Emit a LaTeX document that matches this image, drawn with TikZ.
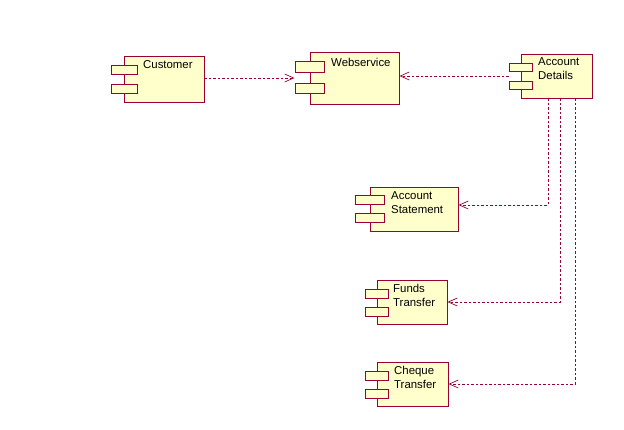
\documentclass[tikz,border=0pt]{standalone}
\usepackage{fontspec}
\setmainfont{Liberation Sans}
\usetikzlibrary{arrows.meta}
\definecolor{umlborder}{RGB}{153,0,51}
\definecolor{umlfill}{RGB}{255,255,204}
\begin{document}
\begin{tikzpicture}[x=1pt,y=-1pt,
 comp/.style={draw=umlborder, fill=umlfill, line width=0.9pt, inner sep=0pt},
 comptab/.style={draw=umlborder, fill=umlfill, line width=0.9pt, inner sep=0pt, minimum width=25pt, minimum height=9pt},
 lbl/.style={anchor=north west, inner sep=0pt, font=\fontsize{11.4}{13.8}\selectfont, align=left},
 dep/.style={draw=umlborder, line width=0.7pt, dash pattern=on 2.5pt off 2pt, -{Straight Barb[length=9pt,width=8pt]}}]
\useasboundingbox (0,0) rectangle (624,429);
\fill[white] (0,0) rectangle (624,429);

% Customer
\node[comp, minimum width=80pt, minimum height=46pt] (cust) at (164,79) {};
\node[comptab, minimum width=26pt] (custt1) at (124,69.5) {};
\node[comptab, minimum width=26pt] (custt2) at (124,88.5) {};
\node[lbl] (custl) at (143,60.5) {Customer};

% Webservice
\node[comp, minimum width=89pt, minimum height=52pt] (web) at (354.5,78) {};
\node[comptab, minimum width=29pt, minimum height=10.5pt] (webt1) at (309.5,67) {};
\node[comptab, minimum width=29pt, minimum height=10.5pt] (webt2) at (309.5,88.5) {};
\node[lbl] (webl) at (331,58.5) {Webservice};

% Account Details
\node[comp, minimum width=71pt, minimum height=44pt] (acc) at (556.5,76) {};
\node[comptab, minimum width=23pt, minimum height=8pt] (acct1) at (520.5,67) {};
\node[comptab, minimum width=23pt, minimum height=8pt] (acct2) at (520.5,85) {};
\node[lbl] (accl) at (538,57.5) {Account\\Details};

% Account Statement
\node[comp, minimum width=88pt, minimum height=44pt] (stmt) at (414,209) {};
\node[comptab, minimum width=29pt] (stmtt1) at (369.5,199.5) {};
\node[comptab, minimum width=29pt] (stmtt2) at (369.5,217.5) {};
\node[lbl] (stmtl) at (391,191.5) {Account\\Statement};

% Funds Transfer
\node[comp, minimum width=70pt, minimum height=44pt] (funds) at (412,302) {};
\node[comptab, minimum width=23pt] (fundst1) at (376.5,293.5) {};
\node[comptab, minimum width=23pt] (fundst2) at (376.5,311.5) {};
\node[lbl] (fundsl) at (393,284.5) {Funds\\Transfer};

% Cheque Transfer
\node[comp, minimum width=71pt, minimum height=44pt] (cheque) at (412.5,384) {};
\node[comptab, minimum width=23pt] (chequet1) at (376.5,375.5) {};
\node[comptab, minimum width=23pt] (chequet2) at (376.5,393.5) {};
\node[lbl] (chequel) at (394,366.5) {Cheque\\Transfer};

% Dependencies
\draw[dep] ([yshift=1pt]cust.east) -- ([yshift=1pt]cust.east -| webt1.west);
\draw[dep] (acc.center -| acct1.west) -- (acc.center -| web.east);
\draw[dep] ([xshift=-8.5pt]acc.south) |- ([yshift=4pt]stmt.east);
\draw[dep] ([xshift=3.5pt]acc.south) |- (funds.east);
\draw[dep] ([xshift=18.5pt]acc.south) |- (cheque.east);
\end{tikzpicture}
\end{document}
